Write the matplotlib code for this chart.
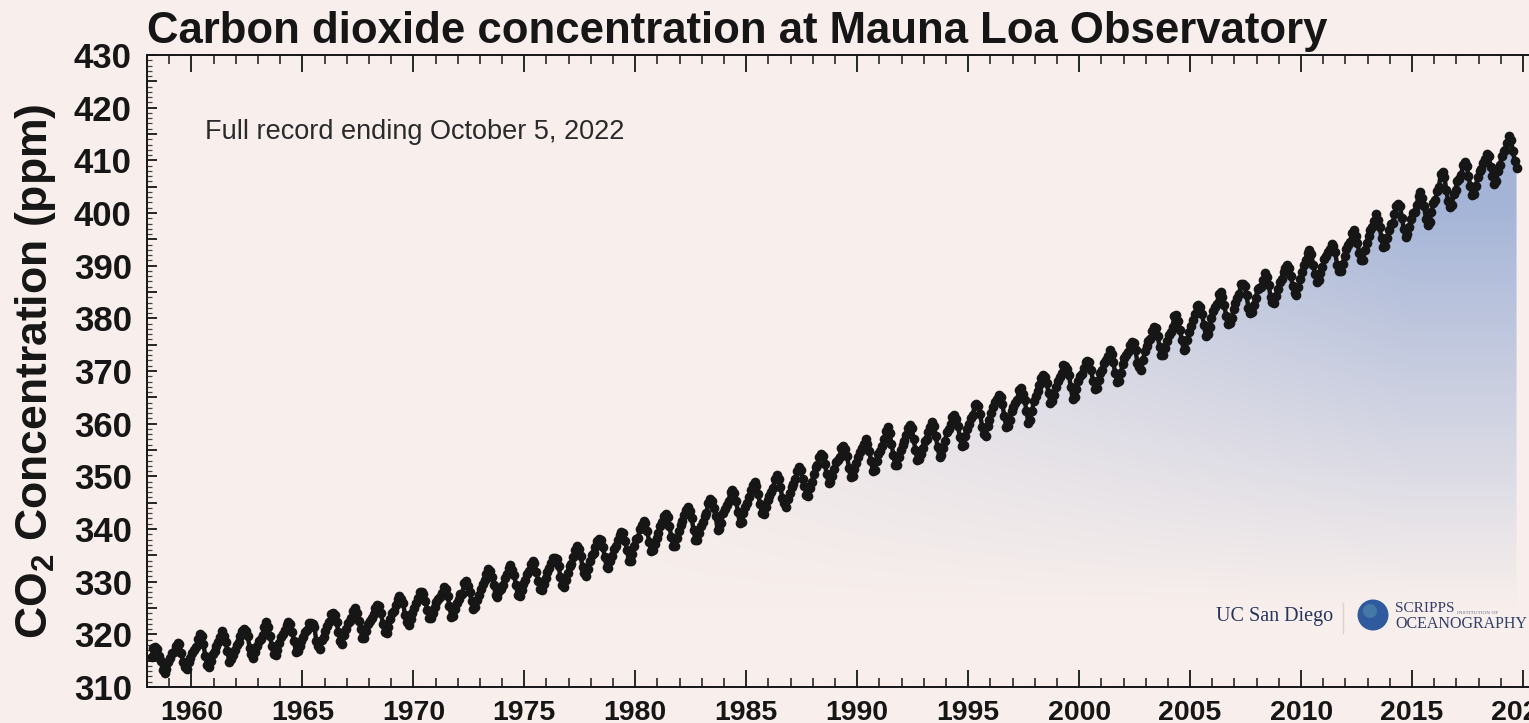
import numpy as np
import matplotlib
matplotlib.use("Agg")
import matplotlib.pyplot as plt
from matplotlib.patches import Circle
from matplotlib.colors import to_rgb

# ---------------- data (monthly means, ppm) ----------------
start_year = 1958
start_month = 3  # first value is March 1958

co2_1958_1969 = [
    315.70, 317.45, 317.51, 317.24, 315.86, 314.93, 313.20, 312.66, 313.33, 314.67,
    315.58, 316.48, 316.65, 317.72, 318.29, 318.15, 316.54, 314.80, 313.84, 313.33, 314.81, 315.58,
    316.43, 316.98, 317.58, 319.03, 320.04, 319.59, 318.18, 315.90, 314.17, 313.83, 315.00, 316.19,
    316.90, 317.70, 318.54, 319.48, 320.58, 319.77, 318.57, 316.79, 314.80, 315.38, 316.10, 317.01,
    317.94, 318.55, 319.68, 320.57, 321.02, 320.62, 319.61, 317.40, 316.25, 315.42, 316.69, 317.70,
    318.74, 319.07, 319.86, 321.38, 322.25, 321.48, 319.74, 317.77, 316.21, 315.99, 317.12, 318.31,
    319.57, 320.07, 320.73, 321.77, 322.25, 321.89, 320.44, 318.70, 316.70, 316.79, 317.79, 318.71,
    319.44, 320.44, 320.89, 322.13, 322.16, 321.87, 321.39, 318.81, 317.81, 317.30, 318.87, 319.42,
    320.62, 321.59, 322.39, 323.87, 324.01, 323.75, 322.39, 320.37, 318.64, 318.10, 319.79, 321.08,
    322.07, 322.50, 323.04, 324.42, 325.00, 324.09, 322.55, 320.92, 319.31, 319.31, 320.72, 321.96,
    322.57, 323.15, 323.89, 325.02, 325.57, 325.36, 324.14, 322.03, 320.41, 320.25, 321.31, 322.84,
    324.00, 324.42, 325.64, 326.66, 327.34, 326.76, 325.88, 323.67, 322.38, 321.78, 322.85, 324.11,
]
co2_1970s = [
    325.03, 325.99, 326.87, 328.13, 328.07, 327.66, 326.35, 324.69, 323.10, 323.16, 323.98, 325.13,
    326.17, 326.68, 327.18, 327.78, 328.92, 328.57, 327.34, 325.46, 323.36, 323.57, 324.80, 326.01,
    326.77, 327.63, 327.75, 329.72, 330.07, 329.09, 328.04, 326.32, 324.84, 325.20, 326.50, 327.55,
    328.55, 329.56, 330.30, 331.50, 332.48, 332.07, 330.87, 329.31, 327.51, 327.18, 328.16, 328.64,
    329.35, 330.71, 331.48, 332.65, 333.09, 332.25, 331.18, 329.40, 327.43, 327.37, 328.46, 329.57,
    330.40, 331.40, 332.04, 333.31, 333.96, 333.59, 331.91, 330.06, 328.56, 328.34, 329.49, 330.76,
    331.75, 332.56, 333.50, 334.58, 334.57, 334.34, 333.05, 330.94, 329.30, 328.94, 330.31, 331.68,
    332.93, 333.42, 334.70, 336.07, 336.74, 336.27, 334.93, 332.75, 331.58, 331.16, 332.40, 333.85,
    334.97, 335.39, 336.64, 337.76, 338.01, 337.89, 336.54, 334.68, 332.76, 332.55, 333.92, 334.95,
    336.23, 336.76, 337.96, 338.89, 339.47, 339.29, 337.73, 336.09, 333.92, 333.86, 335.29, 336.73,
]
co2_1980s = [
    338.01, 338.36, 340.08, 340.77, 341.46, 341.17, 339.56, 337.60, 335.88, 336.01, 337.10, 338.21,
    339.24, 340.48, 341.38, 342.51, 342.91, 342.25, 340.49, 338.43, 336.69, 336.85, 338.36, 339.61,
    340.75, 341.61, 342.70, 343.56, 344.13, 343.35, 342.06, 339.82, 337.97, 337.86, 339.26, 340.49,
    341.38, 342.52, 343.10, 344.94, 345.75, 345.32, 343.99, 342.39, 339.86, 339.99, 341.16, 342.99,
    343.82, 344.63, 345.40, 347.07, 347.43, 346.79, 345.40, 343.28, 341.07, 341.35, 342.98, 344.22,
    344.97, 345.99, 347.42, 348.35, 348.93, 348.25, 346.56, 344.67, 343.09, 342.80, 344.24, 345.56,
    346.29, 346.96, 347.86, 349.55, 350.21, 349.54, 347.94, 345.91, 344.86, 344.17, 345.66, 346.90,
    348.02, 348.47, 349.42, 350.99, 351.84, 351.25, 349.52, 348.10, 346.44, 346.36, 347.81, 348.96,
    350.43, 351.72, 352.22, 353.59, 354.22, 353.79, 352.39, 350.44, 348.72, 348.88, 350.07, 351.34,
    352.76, 353.07, 353.68, 355.42, 355.67, 355.12, 353.90, 351.67, 349.80, 349.99, 351.30, 352.52,
]
co2_1990s = [
    353.66, 354.70, 355.39, 356.20, 357.16, 356.22, 354.82, 352.91, 350.96, 351.18, 352.83, 354.21,
    354.72, 355.75, 357.16, 358.60, 359.34, 358.24, 356.17, 354.02, 352.15, 352.21, 353.75, 354.99,
    355.99, 356.72, 357.81, 359.15, 359.66, 359.25, 357.02, 355.00, 353.01, 353.31, 354.16, 355.40,
    356.70, 357.17, 358.38, 359.46, 360.28, 359.60, 357.57, 355.52, 353.69, 353.99, 355.34, 356.80,
    358.37, 358.91, 359.97, 361.26, 361.69, 360.94, 359.55, 357.49, 355.84, 356.00, 357.58, 359.04,
    359.97, 361.00, 361.64, 363.45, 363.79, 363.26, 361.90, 359.46, 358.06, 357.75, 359.56, 360.70,
    362.05, 363.25, 364.03, 364.72, 365.41, 364.97, 363.65, 361.49, 359.46, 359.60, 360.76, 362.33,
    363.18, 363.99, 364.56, 366.36, 366.80, 365.63, 364.47, 362.50, 360.19, 360.78, 362.43, 364.28,
    365.33, 366.15, 367.31, 368.61, 369.30, 368.88, 367.64, 365.78, 363.90, 364.23, 365.46, 366.97,
    368.15, 368.87, 369.59, 371.14, 371.00, 370.35, 369.27, 366.94, 364.63, 365.12, 366.67, 368.01,
]
co2_2000s = [
    369.14, 369.46, 370.52, 371.66, 371.82, 371.70, 370.12, 368.12, 366.62, 366.73, 368.29, 369.53,
    370.28, 371.50, 372.12, 372.87, 374.02, 373.30, 371.62, 369.55, 367.96, 368.09, 369.68, 371.24,
    372.44, 373.08, 373.52, 374.85, 375.55, 375.40, 374.02, 371.48, 370.70, 370.25, 372.08, 373.78,
    374.68, 375.62, 376.11, 377.65, 378.35, 378.13, 376.62, 374.50, 372.99, 373.01, 374.35, 375.70,
    376.79, 377.37, 378.41, 380.52, 380.63, 379.57, 377.79, 375.86, 374.06, 374.24, 375.86, 377.48,
    378.46, 379.73, 380.77, 382.29, 382.45, 382.21, 380.74, 378.74, 376.70, 377.00, 378.35, 380.11,
    381.38, 382.19, 382.67, 384.61, 385.03, 384.05, 382.46, 380.41, 378.85, 379.13, 380.15, 381.82,
    382.89, 383.90, 384.58, 386.50, 386.56, 386.10, 384.50, 381.99, 380.96, 381.12, 382.45, 383.95,
    385.52, 385.82, 386.03, 387.21, 388.54, 387.76, 386.36, 384.09, 383.18, 382.99, 384.19, 385.56,
    386.94, 387.48, 388.82, 389.55, 390.14, 389.48, 388.03, 386.11, 384.74, 384.43, 386.02, 387.42,
]
co2_2010s = [
    388.71, 390.20, 391.17, 392.46, 393.00, 392.15, 390.20, 388.35, 386.85, 387.24, 388.67, 389.79,
    391.33, 391.86, 392.60, 393.25, 394.19, 393.74, 392.51, 390.13, 389.08, 389.00, 390.28, 391.86,
    393.12, 393.86, 394.40, 396.18, 396.74, 395.71, 394.36, 392.39, 391.11, 391.05, 392.98, 394.34,
    395.55, 396.80, 397.43, 398.41, 399.78, 398.60, 397.32, 395.20, 393.45, 393.70, 395.16, 396.84,
    397.85, 398.01, 399.77, 401.38, 401.78, 401.25, 399.10, 397.03, 395.38, 396.03, 397.28, 398.91,
    399.98, 400.28, 401.54, 403.28, 403.96, 402.80, 401.31, 398.93, 397.63, 398.29, 400.16, 401.85,
    402.56, 404.12, 404.87, 407.45, 407.72, 406.83, 404.41, 402.27, 401.05, 401.59, 403.55, 404.45,
    406.17, 406.46, 407.22, 409.04, 409.69, 408.88, 407.12, 405.13, 403.37, 403.63, 405.12, 406.81,
    407.96, 408.32, 409.41, 410.24, 411.24, 410.79, 408.71, 406.99, 405.51, 406.00, 408.02, 409.07,
    410.83, 411.75, 411.97, 413.32, 414.66, 413.92, 411.77, 409.95, 408.54,
]

x_tick_years = [1960, 1965, 1970, 1975, 1980, 1985, 1990, 1995, 2000, 2005, 2010, 2015, 2020]
y_tick_values = [310, 320, 330, 340, 350, 360, 370, 380, 390, 400, 410, 420, 430]

title_text = "Carbon dioxide concentration at Mauna Loa Observatory"
note_text = "Full record ending October 5, 2022"
ylabel_text = r"CO$_\mathbf{2}$ Concentration (ppm)"

# ---------------- build series ----------------
co2 = np.array(co2_1958_1969 + co2_1970s + co2_1980s + co2_1990s + co2_2000s + co2_2010s)
idx = np.arange(len(co2)) + (start_month - 1)
dates = start_year + (idx + 0.5) / 12.0

# ---------------- figure ----------------
W, H, DPI = 1529, 723, 100
BG = "#f8efec"
INK = "#161616"
plt.rcParams["font.family"] = ["Liberation Sans", "DejaVu Sans"]
plt.rcParams["mathtext.fontset"] = "custom"
plt.rcParams["mathtext.rm"] = "Liberation Sans"
plt.rcParams["mathtext.bf"] = "Liberation Sans:bold"

fig = plt.figure(figsize=(W / DPI, H / DPI), dpi=DPI, facecolor=BG)

x0, x1 = 1958.30, 2021.0
left_px, top_px, bot_px = 147, 55, 687
px_per_year = 22.3
right_px = left_px + (x1 - x0) * px_per_year
ax = fig.add_axes([left_px / W, 1 - bot_px / H, (right_px - left_px) / W, (bot_px - top_px) / H])
ax.set_facecolor(BG)
ax.set_xlim(x0, x1)
ax.set_ylim(310, 430)

# gradient fill under the curve (blue near the recent, high part, fading out below/left)
nx, ny = 400, 300
gx = np.linspace(x0, x1, nx)
gy = np.linspace(310, 430, ny)
GX, GY = np.meshgrid(gx, gy)
m = np.clip((GY - 325) / 85.0, 0, 1) * np.clip((GX - 1975) / 40.0, 0, 1)
m = np.clip(m * 1.1, 0, 1)
c_bg = np.array(to_rgb(BG))
c_bl = np.array(to_rgb("#a4b4d7"))
img = c_bg[None, None, :] * (1 - m[..., None]) + c_bl[None, None, :] * m[..., None]
im = ax.imshow(img, extent=(x0, x1, 310, 430), origin="lower", aspect="auto", zorder=1,
               interpolation="bilinear")
poly = ax.fill_between(dates, 310, co2, color="none", lw=0, zorder=1)
clip_path = poly.get_paths()[0]
im.set_clip_path(clip_path, transform=ax.transData)

# data points
ax.plot(dates, co2, "-", lw=3.2, color=INK, zorder=3, solid_capstyle="round")
ax.plot(dates, co2, "o", ms=7.0, color=INK, mew=0, zorder=3)

# ticks
ax.set_xticks(x_tick_years)
ax.set_xticklabels([str(v) for v in x_tick_years])
ax.set_xticks(np.arange(1958, 2022), minor=True)
ax.set_yticks(np.arange(310, 431, 5))
ax.set_yticklabels([str(v) if v in y_tick_values else "" for v in np.arange(310, 431, 5)])
ax.set_yticks(np.arange(310, 431, 1), minor=True)

ax.tick_params(axis="x", which="major", direction="in", length=12, width=1.3, top=True,
               labelsize=20.5, pad=9, colors=INK)
ax.tick_params(axis="x", which="minor", direction="in", length=6.5, width=1.1, top=True,
               colors=INK)
ax.tick_params(axis="y", which="major", direction="in", length=7.5, width=1.3, right=False,
               labelsize=25, pad=11, colors=INK)
ax.tick_params(axis="y", which="minor", direction="in", length=3.8, width=0.9, right=False,
               colors="#444444")
for lab in ax.get_xticklabels() + ax.get_yticklabels():
    lab.set_fontweight("bold")
for s in ["left", "bottom", "top"]:
    ax.spines[s].set_linewidth(1.4)
    ax.spines[s].set_color(INK)
ax.spines["right"].set_visible(False)

# y label
fig.text(36 / W, 1 - 371 / H, ylabel_text, rotation=90, fontsize=32, fontweight="bold",
         color=INK, ha="center", va="center")

# title
fig.text(left_px / W, 1 - 43 / H, title_text, fontsize=31.5, fontweight="bold",
         color=INK, ha="left", va="baseline")

# note
fig.text(205 / W, 1 - 139 / H, note_text, fontsize=19.5, color="#2a2a2a",
         ha="left", va="baseline", zorder=5)

# logos
fig.text(1216 / W, 1 - 617 / H, "UC San Diego", fontsize=14.5, family="Liberation Serif",
         color="#25345c", ha="left", va="center")
fig.add_artist(plt.Line2D([1343 / W, 1343 / W], [1 - 603 / H, 1 - 633 / H], color="#ddd2d2",
                          lw=1, transform=fig.transFigure))
fig.add_artist(Circle((13.73, (H - 615) / 100), 0.155, transform=fig.dpi_scale_trans,
                      facecolor="#2f5b9e", edgecolor="none"))
fig.add_artist(Circle((13.70, (H - 611) / 100), 0.07, transform=fig.dpi_scale_trans,
                      facecolor="#4f86a8", edgecolor="none", alpha=0.7))
fig.text(1395 / W, 1 - 615.5 / H, "SCRIPPS", fontsize=11, family="Liberation Serif",
         color="#33406a", ha="left", va="bottom")
fig.text(1457 / W, 1 - 614.5 / H, "INSTITUTION OF", fontsize=3.8, family="Liberation Serif",
         color="#6a7090", ha="left", va="bottom")
fig.text(1395 / W, 1 - 616 / H, "OCEANOGRAPHY", fontsize=11.5, family="Liberation Serif",
         color="#33406a", ha="left", va="top")

fig.savefig("out.png", dpi=DPI, facecolor=BG)
